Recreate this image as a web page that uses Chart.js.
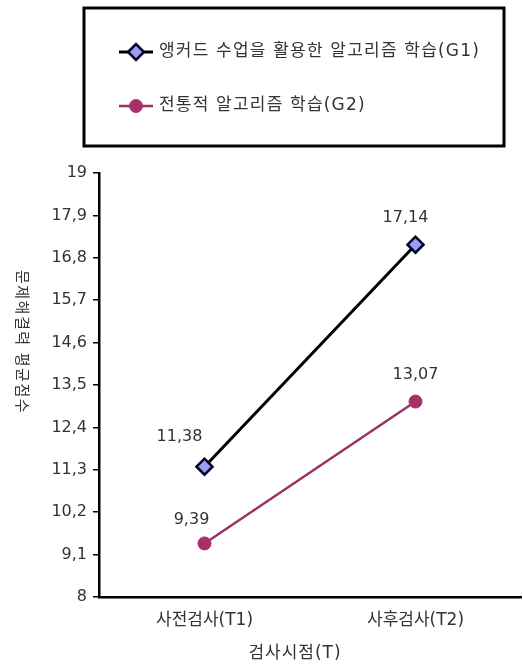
<!DOCTYPE html>
<html>
<head>
<meta charset="utf-8">
<script src="https://cdn.jsdelivr.net/npm/chart.js@4.4.0/dist/chart.umd.min.js"></script>
<style>
  html, body { margin: 0; padding: 0; background: #fff; }
  #wrap { width: 523px; height: 670px; }
</style>
</head>
<body>
<div id="wrap"><canvas id="lineChart" width="523" height="670"></canvas></div>
<script>
const categories = ['사전검사(T1)', '사후검사(T2)'];
const seriesNames = ['앵커드 수업을 활용한 알고리즘 학습(G1)', '전통적 알고리즘 학습(G2)'];
const g1Values = [11.38, 17.14];
const g2Values = [9.39, 13.07];
const g1Labels = ['11,38', '17,14'];
const g2Labels = ['9,39', '13,07'];
const yTickValues = [8, 9.1, 10.2, 11.3, 12.4, 13.5, 14.6, 15.7, 16.8, 17.9, 19];
const yTickLabels = ['8', '9,1', '10,2', '11,3', '12,4', '13,5', '14,6', '15,7', '16,8', '17,9', '19'];
const yTitle = '문제해결력 평균점수';
const xTitle = '검사시점(T)';

const FONT = '"DejaVu Sans", "Noto Sans CJK KR", sans-serif';
const TEXT = '#333333';

// legend box, value labels and axis titles
const extras = {
    id: 'extras',
    afterDraw(chart) {
        const c = chart.ctx;
        c.save();
        // legend box
        c.strokeStyle = '#000';
        c.lineWidth = 3;
        c.strokeRect(84, 8, 420, 138);
        const rows = [52, 106];
        chart.data.datasets.forEach((ds, i) => {
            const y = rows[i];
            c.strokeStyle = ds.borderColor;
            c.lineWidth = ds.borderWidth;
            c.beginPath();
            c.moveTo(119, y);
            c.lineTo(153, y);
            c.stroke();
            c.fillStyle = ds.pointBackgroundColor;
            c.strokeStyle = ds.pointBorderColor;
            c.lineWidth = ds.pointBorderWidth;
            Chart.helpers.drawPoint(c, { pointStyle: ds.pointStyle, radius: ds.pointRadius, borderWidth: ds.pointBorderWidth, rotation: 0 }, 136, y);
            c.fillStyle = TEXT;
            c.font = '17px ' + FONT;
            c.letterSpacing = '1.2px';
            c.textAlign = 'left';
            c.textBaseline = 'middle';
            c.fillText(ds.label, 159, y);
        });

        // value labels
        const offsets = [[[-25, -30], [-10, -27]], [[-13, -24], [0, -27]]];
        const labelSets = [g1Labels, g2Labels];
        c.font = '16px ' + FONT;
        c.letterSpacing = '0px';
        c.fillStyle = TEXT;
        c.textAlign = 'center';
        c.textBaseline = 'middle';
        chart.data.datasets.forEach((ds, i) => {
            chart.getDatasetMeta(i).data.forEach((pt, j) => {
                c.fillText(labelSets[i][j], pt.x + offsets[i][j][0], pt.y + offsets[i][j][1]);
            });
        });

        // x title
        c.font = '17px ' + FONT;
        c.letterSpacing = '1px';
        c.fillText(xTitle, 295, 654);

        // y title, rotated clockwise
        c.translate(21, 342);
        c.rotate(Math.PI / 2);
        c.font = '15px ' + FONT;
        c.letterSpacing = '1.5px';
        c.fillText(yTitle, 0, 0);
        c.restore();
    }
};

new Chart(document.getElementById('lineChart'), {
    type: 'line',
    data: {
        labels: categories,
        datasets: [
            {
                label: seriesNames[0], data: g1Values,
                borderColor: '#000000', borderWidth: 3,
                pointStyle: 'rectRot', pointRadius: 8,
                pointBackgroundColor: '#9c9cf0', pointBorderColor: '#000028', pointBorderWidth: 2.5
            },
            {
                label: seriesNames[1], data: g2Values,
                borderColor: '#993366', borderWidth: 2.5,
                pointStyle: 'circle', pointRadius: 6.5,
                pointBackgroundColor: '#a83068', pointBorderColor: '#a83068', pointBorderWidth: 1
            }
        ]
    },
    options: {
        responsive: false,
        animation: false,
        layout: { autoPadding: false, padding: { top: 173, right: 2, bottom: 0, left: 0 } },
        plugins: { legend: { display: false }, tooltip: { enabled: false } },
        scales: {
            x: {
                offset: true,
                grid: { display: false, drawTicks: false },
                border: { display: true, color: '#000', width: 2.5 },
                ticks: { color: TEXT, font: { size: 17, family: FONT }, padding: 13, maxRotation: 0 },
                afterFit(axis) { axis.height = 73; axis.paddingLeft = 0; axis.paddingRight = 0; }
            },
            y: {
                min: 8, max: 19,
                afterBuildTicks(axis) { axis.ticks = yTickValues.map(v => ({ value: v })); },
                grid: { display: true, drawOnChartArea: false, tickLength: 6, color: '#000', lineWidth: 1.5 },
                border: { display: true, color: '#000', width: 2.5 },
                ticks: {
                    color: TEXT, font: { size: 16, family: FONT }, padding: 6,
                    callback: (v, i) => yTickLabels[i]
                },
                afterFit(axis) { axis.width = 99; axis.paddingTop = 0; axis.paddingBottom = 0; }
            }
        }
    },
    plugins: [extras]
});
</script>
</body>
</html>
